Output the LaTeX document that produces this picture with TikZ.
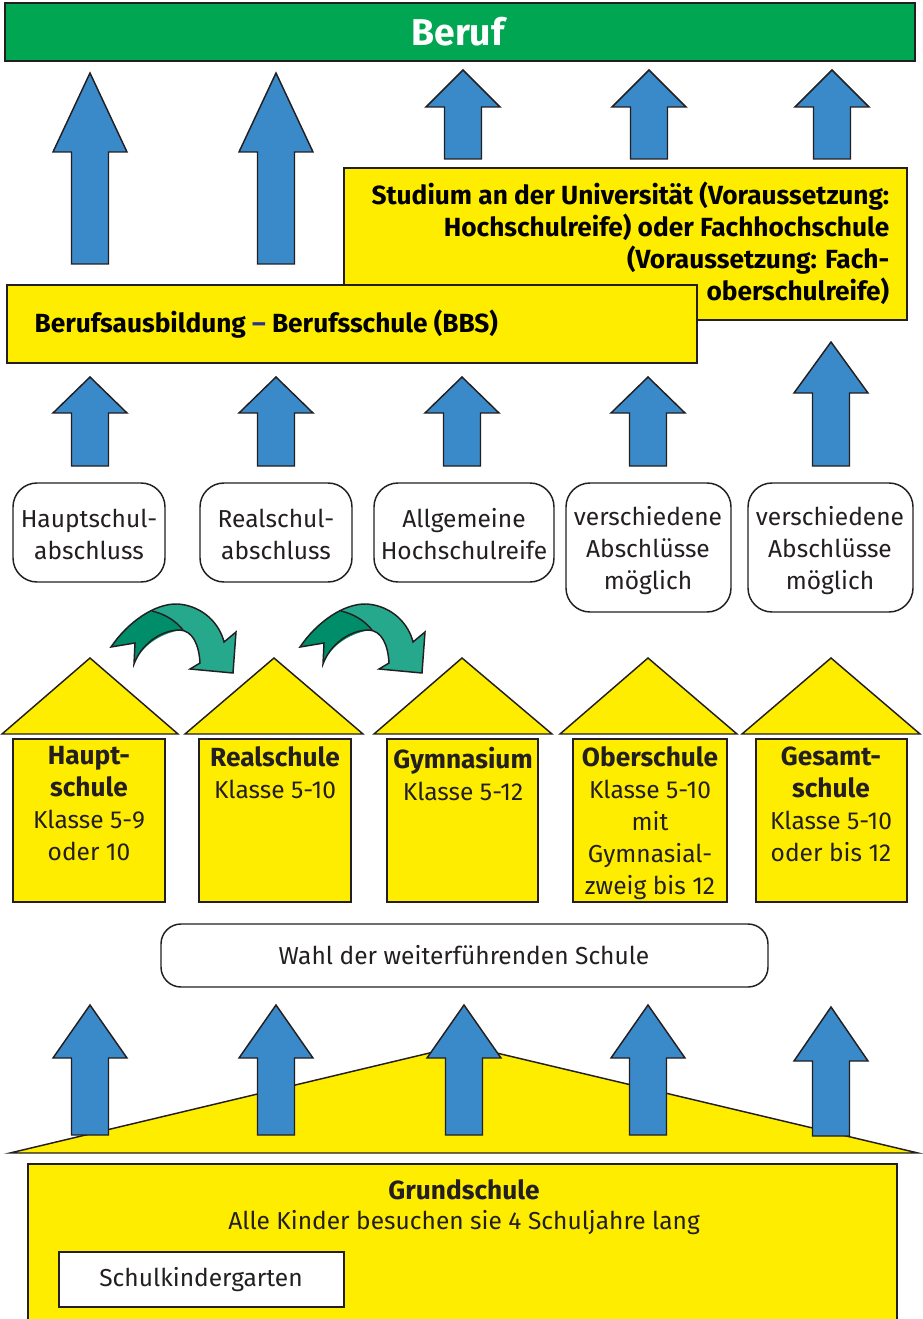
\documentclass[tikz,border=0pt]{standalone}
\usepackage{fontspec}
\setmainfont{Fira Sans}

\definecolor{berufgruen}{RGB}{0,166,81}
\definecolor{schulgelb}{RGB}{255,237,0}
\definecolor{pfeilblau}{RGB}{58,137,201}
\definecolor{bogenhell}{RGB}{38,168,141}
\definecolor{bogendunkel}{RGB}{0,142,106}
\definecolor{strichblau}{RGB}{46,49,146}
\definecolor{kontur}{RGB}{35,31,32}

\tikzset{every picture/.style={line width=1.1pt}}
\tikzset{
  kasten/.style={draw=kontur, fill=schulgelb},
  rundkasten/.style={draw=kontur, fill=white, rounded corners=18pt},
  blockpfeil/.style={draw=kontur, fill=pfeilblau},
  textnode/.style={inner sep=0.75pt, align=center, text=kontur},
}
\newcommand{\schrift}{\fontsize{18.4}{24}\selectfont}
\newcommand{\fettschrift}{\fontsize{19.7}{24}\selectfont\bfseries}
% Blockpfeil nach oben: Mitte x, Spitze y, Kopfbasis y, Ende y
\newcommand{\hochpfeil}[4]{%
  \draw [blockpfeil] (#1-18.5,#4) -- (#1-18.5,#3) -- (#1-37,#3) -- (#1,#2) -- (#1+37,#3) -- (#1+18.5,#3) -- (#1+18.5,#4) -- cycle ;}
% gebogener Pfeil, um x verschoben
\newcommand{\bogenpfeil}[1]{%
  \begin{scope}[shift={(#1,0)}]
    \fill [bogenhell] (111,647) .. controls (128,622) and (155,603) .. (178,604) .. controls (204,606) and (220,625) .. (224,642) -- (236,632) -- (233,673) -- (190,669) -- (200,663) .. controls (199,645) and (193,631) .. (180,630) .. controls (160,630) and (141,645) .. (134,664) -- (135,643) -- cycle ;
    \fill [bogendunkel] (111,647) .. controls (120,632) and (135,618) .. (152,611) .. controls (165,614) and (176,621) .. (183,630) .. controls (162,632) and (141,646) .. (134,664) -- (135,643) -- cycle ;
    \draw [kontur, line join=miter] (111,647) .. controls (128,622) and (155,603) .. (178,604) .. controls (204,606) and (220,625) .. (224,642) -- (236,632) -- (233,673) -- (190,669) -- (200,663) .. controls (199,645) and (193,631) .. (180,630) .. controls (160,630) and (141,645) .. (134,664) -- (135,643) -- cycle ;
    \draw [kontur] (152,611) .. controls (165,614) and (176,621) .. (183,630) ;
  \end{scope}}

\begin{document}
\begin{tikzpicture}[x=0.75pt,y=0.75pt,yscale=-1,xscale=1]
\useasboundingbox (0,0) rectangle (923,1319);

%Shape: Rectangle Beruf
\draw [draw=kontur, fill=berufgruen] (5,3) rectangle (915,61) ;
% Text Node
\draw (458,32) node (beruf) [inner sep=0.75pt, text=white, font=\fontsize{28}{32}\selectfont\bfseries] {Beruf};

%Shape: Pfeile zum Beruf
\hochpfeil{90}{73}{152}{264}
\hochpfeil{276}{73}{152}{264}
\hochpfeil{463}{70}{107}{159}
\hochpfeil{649}{70}{107}{159}
\hochpfeil{832}{70}{107}{159}

%Shape: Rectangle Studium
\draw [kasten] (344,168) rectangle (907,320) ;
% Text Node
\draw (891,243) node (studium) [anchor=east][inner sep=0.75pt][align=right, font=\fettschrift] {Studium an der Universität (Voraussetzung:\\Hochschulreife) oder Fachhochschule\\(Voraussetzung: Fach-\\oberschulreife)};

%Shape: Rectangle BBS
\draw [kasten] (7,285) rectangle (697,363) ;
% Text Node
\draw (33,324) node (bbs) [anchor=west][inner sep=0.75pt] {\fettschrift Berufsausbildung {\color{strichblau}--} Berufsschule (BBS)};

%Shape: Pfeile zu den Abschluessen
\hochpfeil{90}{377}{413}{466}
\hochpfeil{276}{377}{413}{466}
\hochpfeil{462}{377}{413}{466}
\hochpfeil{648}{377}{413}{466}
\hochpfeil{831}{342}{393}{466}

%Shape: Abschluesse
\draw [rundkasten] (13,483) rectangle (165,582) ;
\draw [rundkasten] (200,483) rectangle (352,582) ;
\draw [rundkasten] (374,483) rectangle (554,582) ;
\draw [rundkasten] (566,483) rectangle (731,612) ;
\draw [rundkasten] (748,483) rectangle (913,612) ;
% Text Node
\draw (89,534) node (hsa) [textnode, font=\schrift] {Hauptschul-\\abschluss};
\draw (276,534) node (rsa) [textnode, font=\schrift] {Realschul-\\abschluss};
\draw (464,534) node (ahr) [textnode, font=\schrift] {Allgemeine\\Hochschulreife};
\draw (648,551) node (versch1) [textnode, font=\schrift] {verschiedene\\Abschlüsse\\möglich};
\draw (830,551) node (versch2) [textnode, font=\schrift] {verschiedene\\Abschlüsse\\möglich};

%Shape: gebogene Pfeile
\bogenpfeil{0}
\bogenpfeil{189}

%Shape: Daecher
\draw [kasten, line join=miter] (2,734) -- (90,658) -- (178,734) -- cycle ;
\draw [kasten, line join=miter] (185,734) -- (274,658) -- (363,734) -- cycle ;
\draw [kasten, line join=miter] (374,734) -- (462,658) -- (552,734) -- cycle ;
\draw [kasten, line join=miter] (560,734) -- (648,658) -- (737,734) -- cycle ;
\draw [kasten, line join=miter] (742,734) -- (831,658) -- (920,734) -- cycle ;
%Shape: Schulgebaeude
\draw [kasten] (13,739) rectangle (165,902) ;
\draw [kasten] (199,739) rectangle (351,902) ;
\draw [kasten] (387,739) rectangle (538,902) ;
\draw [kasten] (573,739) rectangle (727,902) ;
\draw [kasten] (756,739) rectangle (907,902) ;
% Text Node
\draw (89,745) node (hauptschule) [anchor=north][textnode, font=\schrift] {{\fettschrift Haupt-}\\{\fettschrift schule}\\Klasse 5-9\\oder 10};
\draw (275,745) node (realschule) [anchor=north][textnode, font=\schrift] {{\fettschrift Realschule}\\Klasse 5-10};
\draw (463,745) node (gymnasium) [anchor=north][textnode, font=\schrift] {{\fettschrift Gymnasium}\\Klasse 5-12};
\draw (650,745) node (oberschule) [anchor=north][textnode, font=\schrift] {{\fettschrift Oberschule}\\Klasse 5-10\\mit\\Gymnasial-\\zweig bis 12};
\draw (831,745) node (gesamtschule) [anchor=north][textnode, font=\schrift] {{\fettschrift Gesamt-}\\{\fettschrift schule}\\Klasse 5-10\\oder bis 12};

%Shape: Wahl
\draw [rundkasten, rounded corners=15pt] (161,924) rectangle (768,987) ;
% Text Node
\draw (464,955) node (wahl) [textnode, font=\schrift] {Wahl der weiterführenden Schule};

%Shape: grosses Dach
\draw [kasten, line join=miter] (10,1153) -- (463,1045) -- (918,1153) -- cycle ;
%Shape: Pfeile aus der Grundschule
\hochpfeil{90}{1005}{1058}{1135}
\hochpfeil{276}{1005}{1058}{1135}
\hochpfeil{464}{1005}{1058}{1135}
\hochpfeil{648}{1005}{1058}{1135}
\hochpfeil{831}{1007}{1061}{1136}

%Shape: Rectangle Grundschule
\draw [kasten] (28,1164) rectangle (897,1330) ;
% Text Node
\draw (464,1190) node (grundschule) [textnode, font=\fettschrift] {Grundschule};
\draw (464,1223) node (allekinder) [textnode, font=\schrift] {Alle Kinder besuchen sie 4 Schuljahre lang};
%Shape: Rectangle Schulkindergarten
\draw [draw=kontur, fill=white] (59,1252) rectangle (344,1307) ;
\draw (201,1280) node (skg) [textnode, font=\schrift] {Schulkindergarten};

\end{tikzpicture}
\end{document}
